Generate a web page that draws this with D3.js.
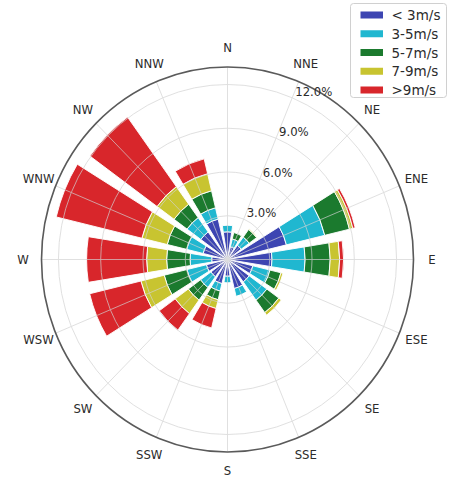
<!DOCTYPE html>
<html>
<head>
<meta charset="utf-8">
<script src="https://cdn.jsdelivr.net/npm/d3@7"></script>
<style>
  html, body { margin: 0; padding: 0; background: #fff; }
  svg { display: block; }
  text { font-family: "DejaVu Sans", sans-serif; fill: #2b2b2b; }
</style>
</head>
<body>
<svg id="chart" width="454" height="479"></svg>
<script>
// ---- data (percent frequency per direction and speed bin) ----
const directions = ["N","NNE","NE","ENE","E","ESE","SE","SSE","S","SSW","SW","WSW","W","WNW","NW","NNW"];
const speedBins = ["< 3m/s", "3-5m/s", "5-7m/s", "7-9m/s", ">9m/s"];
const binColors = ["#3d45b2", "#20b7d0", "#1b7a2e", "#c8c430", "#d8262b"];
const lt3  = [1.90, 0.90, 1.20, 4.30, 3.16, 1.85, 1.90, 2.05, 1.15, 1.70, 1.46, 1.54, 1.12, 1.78, 2.34, 2.85];
const s3_5 = [0.45, 0.55, 0.70, 2.80, 2.35, 1.25, 1.55, 0.55, 0.45, 0.53, 0.91, 1.42, 1.54, 1.20, 1.21, 0.80];
const s5_7 = [0.00, 0.45, 0.65, 1.80, 1.78, 0.80, 1.05, 0.00, 0.00, 0.61, 1.07, 1.66, 1.66, 1.42, 1.14, 1.20];
const s7_9 = [0.00, 0.00, 0.05, 0.25, 0.67, 0.15, 0.22, 0.00, 0.00, 0.62, 1.15, 1.70, 1.42, 1.85, 1.49, 1.20];
const gt9  = [0.00, 0.00, 0.00, 0.17, 0.28, 0.00, 0.00, 0.00, 0.00, 1.37, 1.40, 3.74, 4.26, 6.25, 5.89, 1.05];
const ringTicks = [3, 6, 9, 12];
const ringLabels = ["3.0%", "6.0%", "9.0%", "12.0%"];

const series = [lt3, s3_5, s5_7, s7_9, gt9];

// ---- layout ----
const svg = d3.select("#chart");
const cx = 227.5, cy = 259.5, sy = 1.035;
const rMax = 13.2, Rout = 186;
const r = d3.scaleLinear().domain([0, rMax]).range([0, Rout]);
const ang = d3.scaleBand().domain(directions).range([0, 2 * Math.PI]).align(0).paddingInner(0);
const step = 2 * Math.PI / directions.length;
const halfW = step * 0.8 / 2;
const center = d => ang(d); // band start = compass angle of direction

const g = svg.append("g").attr("transform", `translate(${cx},${cy}) scale(1,${sy})`);

// stacked data
const rows = directions.map((d, i) => {
  const o = { dir: d };
  speedBins.forEach((b, k) => o[b] = series[k][i]);
  return o;
});
const stack = d3.stack().keys(speedBins)(rows);

const arc = d3.arc();
stack.forEach((layer, k) => {
  g.append("g").selectAll("path").data(layer).join("path")
    .attr("d", s => arc({
      innerRadius: r(s[0]), outerRadius: r(s[1]),
      startAngle: center(s.data.dir) - halfW, endAngle: center(s.data.dir) + halfW
    }))
    .attr("fill", binColors[k])
    .attr("stroke", "#ffffff")
    .attr("stroke-width", 0.9)
    .attr("display", s => (s[1] - s[0]) > 0 ? null : "none");
});

// grid over bars
const grid = g.append("g").attr("fill", "none").attr("stroke", "#d2d2d2").attr("stroke-width", 0.9).attr("opacity", 0.75);
grid.selectAll("circle").data(ringTicks).join("circle").attr("r", d => r(d));
grid.selectAll("line").data(directions).join("line")
  .attr("x1", 0).attr("y1", 0)
  .attr("x2", d => Rout * Math.sin(center(d)))
  .attr("y2", d => -Rout * Math.cos(center(d)));

// outer circle
g.append("circle").attr("r", Rout).attr("fill", "none").attr("stroke", "#5a5a5a").attr("stroke-width", 1.6);

// compass labels
const Rlab = 204.5;
svg.append("g").selectAll("text").data(directions).join("text")
  .attr("x", d => cx + Rlab * Math.sin(center(d)))
  .attr("y", d => cy - Rlab * Math.cos(center(d)) * sy)
  .attr("text-anchor", "middle")
  .attr("dominant-baseline", "central")
  .attr("font-size", 11.7)
  .text(d => d);

// radial tick labels along the NNE line
const labAng = center("NNE");
svg.append("g").selectAll("text").data(ringTicks).join("text")
  .attr("x", (d) => cx + r(d) * Math.sin(labAng) + 3)
  .attr("y", (d) => cy - r(d) * Math.cos(labAng) * sy - 6)
  .attr("dominant-baseline", "central")
  .attr("font-size", 11.7)
  .text((d, i) => ringLabels[i]);

// legend
const lg = svg.append("g");
lg.append("rect").attr("x", 350.5).attr("y", 3.5).attr("width", 96).attr("height", 94)
  .attr("rx", 3).attr("fill", "#ffffff").attr("fill-opacity", 0.85)
  .attr("stroke", "#d0d0d0").attr("stroke-width", 1);
const ly = d3.scalePoint().domain(speedBins).range([15, 90]);
lg.selectAll("rect.p").data(speedBins).join("rect").attr("class", "p")
  .attr("x", 360.5).attr("y", d => ly(d) - 3.5).attr("width", 22.5).attr("height", 7)
  .attr("fill", (d, i) => binColors[i]);
lg.selectAll("text").data(speedBins).join("text")
  .attr("x", 391.5).attr("y", d => ly(d))
  .attr("dominant-baseline", "central")
  .attr("font-size", 13.5)
  .text(d => d);
</script>
</body>
</html>
